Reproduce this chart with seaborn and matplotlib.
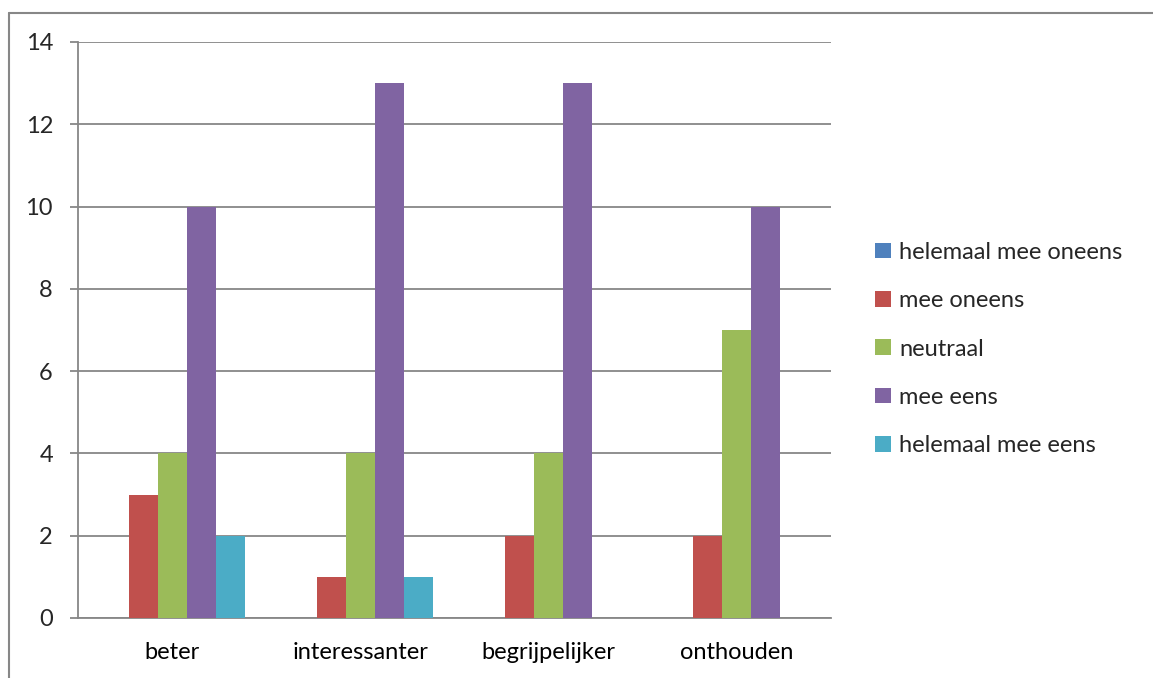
import matplotlib
matplotlib.use("Agg")
import matplotlib.pyplot as plt
from matplotlib.lines import Line2D
from matplotlib.ticker import FixedLocator
import numpy as np
import pandas as pd
import seaborn as sns

categories = ["beter", "interessanter", "begrijpelijker", "onthouden"]
series_names = ["helemaal mee oneens", "mee oneens", "neutraal", "mee eens", "helemaal mee eens"]
helemaal_mee_oneens = [0, 0, 0, 0]
mee_oneens = [3, 1, 2, 2]
neutraal = [4, 4, 4, 7]
mee_eens = [10, 13, 13, 10]
helemaal_mee_eens = [2, 1, 0, 0]
y_ticks = [0, 2, 4, 6, 8, 10, 12, 14]

colors = ["#4F81BD", "#C0504D", "#9BBB59", "#8064A2", "#4BACC6"]
grid_color = "#878787"

values = [helemaal_mee_oneens, mee_oneens, neutraal, mee_eens, helemaal_mee_eens]
df = pd.DataFrame({
    "categorie": np.tile(categories, len(series_names)),
    "reeks": np.repeat(series_names, len(categories)),
    "aantal": np.concatenate(values),
})

sns.set_style("white")
plt.rcParams["font.family"] = ["Lato", "DejaVu Sans"]
fs = 17

W, H = 1153, 678
fig = plt.figure(figsize=(W / 100, H / 100), dpi=100)
ax = fig.add_axes([78 / W, 1 - 618 / H, (831 - 78) / W, (618 - 42) / H])

sns.barplot(data=df, x="categorie", y="aantal", hue="reeks",
            order=categories, hue_order=series_names, palette=colors,
            width=0.77, saturation=1, linewidth=0, ax=ax, legend=True, zorder=3)

ax.set_xlim(-0.5, len(categories) - 0.5)
ax.set_ylim(0, 14)
ax.set_xlabel("")
ax.set_ylabel("")

ax.set_yticks(y_ticks)
ax.set_yticklabels([str(t) for t in y_ticks])
ax.yaxis.grid(True, color=grid_color, linewidth=1.3, zorder=0)
ax.set_axisbelow(True)

# group boundaries carry the tick marks, labels sit at group centres
ax.xaxis.set_minor_locator(FixedLocator(np.arange(-0.5, len(categories), 1.0)))
ax.tick_params(axis="x", which="major", length=0, pad=17, labelsize=fs, colors="black")
ax.tick_params(axis="x", which="minor", length=6, width=1.3, color=grid_color, direction="out")
ax.tick_params(axis="y", which="major", length=6, width=1.3, color=grid_color,
               direction="out", pad=12, labelsize=fs)
ax.tick_params(left=True, bottom=True)

for side in ["top", "right"]:
    ax.spines[side].set_visible(False)
for side in ["left", "bottom"]:
    ax.spines[side].set_color(grid_color)
    ax.spines[side].set_linewidth(1.3)

handles, labels = ax.get_legend_handles_labels()
ax.legend(handles, labels, loc="center left", bbox_to_anchor=(866 / W, 1 - 349 / H),
          bbox_transform=fig.transFigure, frameon=False, fontsize=fs,
          handlelength=0.65, handleheight=0.65, handletextpad=0.35,
          labelspacing=1.16, borderaxespad=0)

# outer chart border (left and top edges)
x0, y0 = 9 / W, 1 - 13 / H
fig.add_artist(Line2D([x0, x0], [0, y0], transform=fig.transFigure,
                      color=grid_color, linewidth=1.5))
fig.add_artist(Line2D([x0, 1], [y0, y0], transform=fig.transFigure,
                      color=grid_color, linewidth=1.5))

fig.savefig("out.png", dpi=100)
